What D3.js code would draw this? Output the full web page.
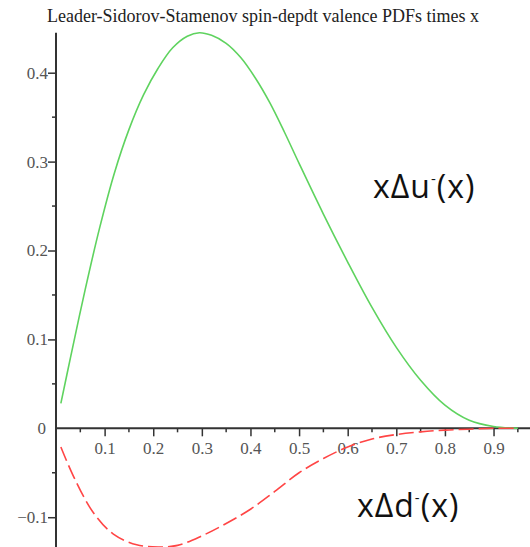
<!DOCTYPE html>
<html>
<head>
<meta charset="utf-8">
<script src="https://cdn.jsdelivr.net/npm/d3@7"></script>
<style>
  body { margin: 0; background: #fff; }
  svg { display: block; }
</style>
</head>
<body>
<svg id="chart" width="530" height="547"></svg>
<script>
// x * delta u valence (green)
const uX = [0.01, 0.03, 0.06, 0.09, 0.12, 0.15, 0.18, 0.21, 0.24, 0.27, 0.295, 0.32, 0.35, 0.38, 0.41, 0.44, 0.47, 0.5, 0.55, 0.6, 0.65, 0.7, 0.75, 0.8, 0.85, 0.9, 0.95];
const uValues = [0.028, 0.080, 0.156, 0.226, 0.287, 0.336, 0.375, 0.405, 0.428, 0.441, 0.445, 0.442, 0.433, 0.417, 0.394, 0.366, 0.333, 0.298, 0.241, 0.187, 0.136, 0.091, 0.054, 0.026, 0.009, 0.002, 0.0];

// x * delta d valence (red, dashed)
const dX = [0.01, 0.036, 0.077, 0.118, 0.166, 0.21, 0.25, 0.3, 0.35, 0.4, 0.45, 0.5, 0.55, 0.6, 0.65, 0.7, 0.75, 0.8, 0.85, 0.9, 0.95];
const dValues = [-0.021, -0.054, -0.095, -0.119, -0.131, -0.1335, -0.1317, -0.121, -0.107, -0.091, -0.071, -0.050, -0.034, -0.021, -0.012, -0.007, -0.004, -0.002, -0.001, 0.0, 0.0];

const xMajor = [0.1, 0.2, 0.3, 0.4, 0.5, 0.6, 0.7, 0.8, 0.9];
const xMinor = [0.05, 0.15, 0.25, 0.35, 0.45, 0.55, 0.65, 0.75, 0.85, 0.95];
const yMajor = [-0.1, 0.1, 0.2, 0.3, 0.4];
const yMinor = [-0.05, 0.05, 0.15, 0.25, 0.35];

const titleText = "Leader-Sidorov-Stamenov spin-depdt valence PDFs times x";

const svg = d3.select("#chart");

// scales
const x = d3.scaleLinear().domain([0, 0.975]).range([56, 530]);
const y = d3.scaleLinear().domain([-0.1335, 0.445]).range([547, 32.7]);

const tickFont = "'Liberation Serif', 'Times New Roman', serif";

// x axis at y = 0
const xAxisG = svg.append("g").attr("transform", `translate(0,${y(0)})`);
xAxisG.append("line")
  .attr("x1", x(0)).attr("x2", 530)
  .attr("stroke", "#333").attr("stroke-width", 2);

xAxisG.call(g => g.selectAll(".minor").data(xMinor).join("line")
  .attr("x1", d => x(d)).attr("x2", d => x(d))
  .attr("y1", 0).attr("y2", 4)
  .attr("stroke", "#333").attr("stroke-width", 1.5));

xAxisG.append("g")
  .call(d3.axisBottom(x).tickValues(xMajor).tickSize(8).tickSizeOuter(0).tickFormat(d3.format(".1f")))
  .call(g => g.select(".domain").remove())
  .call(g => g.selectAll(".tick line").attr("stroke", "#333").attr("stroke-width", 1.5))
  .call(g => g.selectAll(".tick text")
    .attr("y", 14)
    .attr("fill", "#555")
    .style("font-family", tickFont)
    .style("font-size", "17px"));

// y axis at x = 0
const yAxisG = svg.append("g").attr("transform", `translate(${x(0)},0)`);
yAxisG.append("line")
  .attr("y1", y(0.445)).attr("y2", 547)
  .attr("stroke", "#333").attr("stroke-width", 2);

yAxisG.call(g => g.selectAll(".minor").data(yMinor).join("line")
  .attr("y1", d => y(d)).attr("y2", d => y(d))
  .attr("x1", 0).attr("x2", -4)
  .attr("stroke", "#333").attr("stroke-width", 1.5));

yAxisG.append("g")
  .call(d3.axisLeft(y).tickValues(yMajor).tickSize(8).tickSizeOuter(0)
    .tickFormat(d => d < 0 ? "\u2212" + d3.format(".1f")(-d) : d3.format(".1f")(d)))
  .call(g => g.select(".domain").remove())
  .call(g => g.selectAll(".tick line").attr("stroke", "#333").attr("stroke-width", 1.5))
  .call(g => g.selectAll(".tick text")
    .attr("x", -8)
    .attr("fill", "#555")
    .style("font-family", tickFont)
    .style("font-size", "17px"));

// "0" label at origin
svg.append("text")
  .attr("x", x(0) - 10).attr("y", y(0)).attr("dy", "0.35em")
  .attr("text-anchor", "end")
  .attr("fill", "#555")
  .style("font-family", tickFont)
  .style("font-size", "17px")
  .text("0");

// curves
const uData = uX.map((v, i) => [v, uValues[i]]);
const dData = dX.map((v, i) => [v, dValues[i]]);

const line = d3.line()
  .x(d => x(d[0]))
  .y(d => y(d[1]))
  .curve(d3.curveCatmullRom.alpha(0.5));

svg.append("path")
  .datum(uData)
  .attr("d", line)
  .attr("fill", "none")
  .attr("stroke", "#5fd35f")
  .attr("stroke-width", 1.6);

svg.append("path")
  .datum(dData)
  .attr("d", line)
  .attr("fill", "none")
  .attr("stroke", "#ff4545")
  .attr("stroke-width", 1.6)
  .attr("stroke-dasharray", "15,5");

// title
svg.append("text")
  .attr("x", 263).attr("y", 22)
  .attr("text-anchor", "middle")
  .attr("fill", "#222")
  .style("font-family", tickFont)
  .style("font-size", "18px")
  .text(titleText);

// curve labels
function curveLabel(px, py, letter) {
  const t = svg.append("text")
    .attr("x", px).attr("y", py)
    .attr("fill", "#111")
    .style("font-family", "'Open Sans', sans-serif")
    .style("font-size", "32px")
    .style("letter-spacing", "1px");
  t.append("tspan").text("x\u0394" + letter);
  t.append("tspan").attr("dy", -14).style("font-size", "15px").text("-");
  t.append("tspan").attr("dy", 14).text("(x)");
}
curveLabel(373, 198, "u");
curveLabel(357, 517, "d");
</script>
</body>
</html>
